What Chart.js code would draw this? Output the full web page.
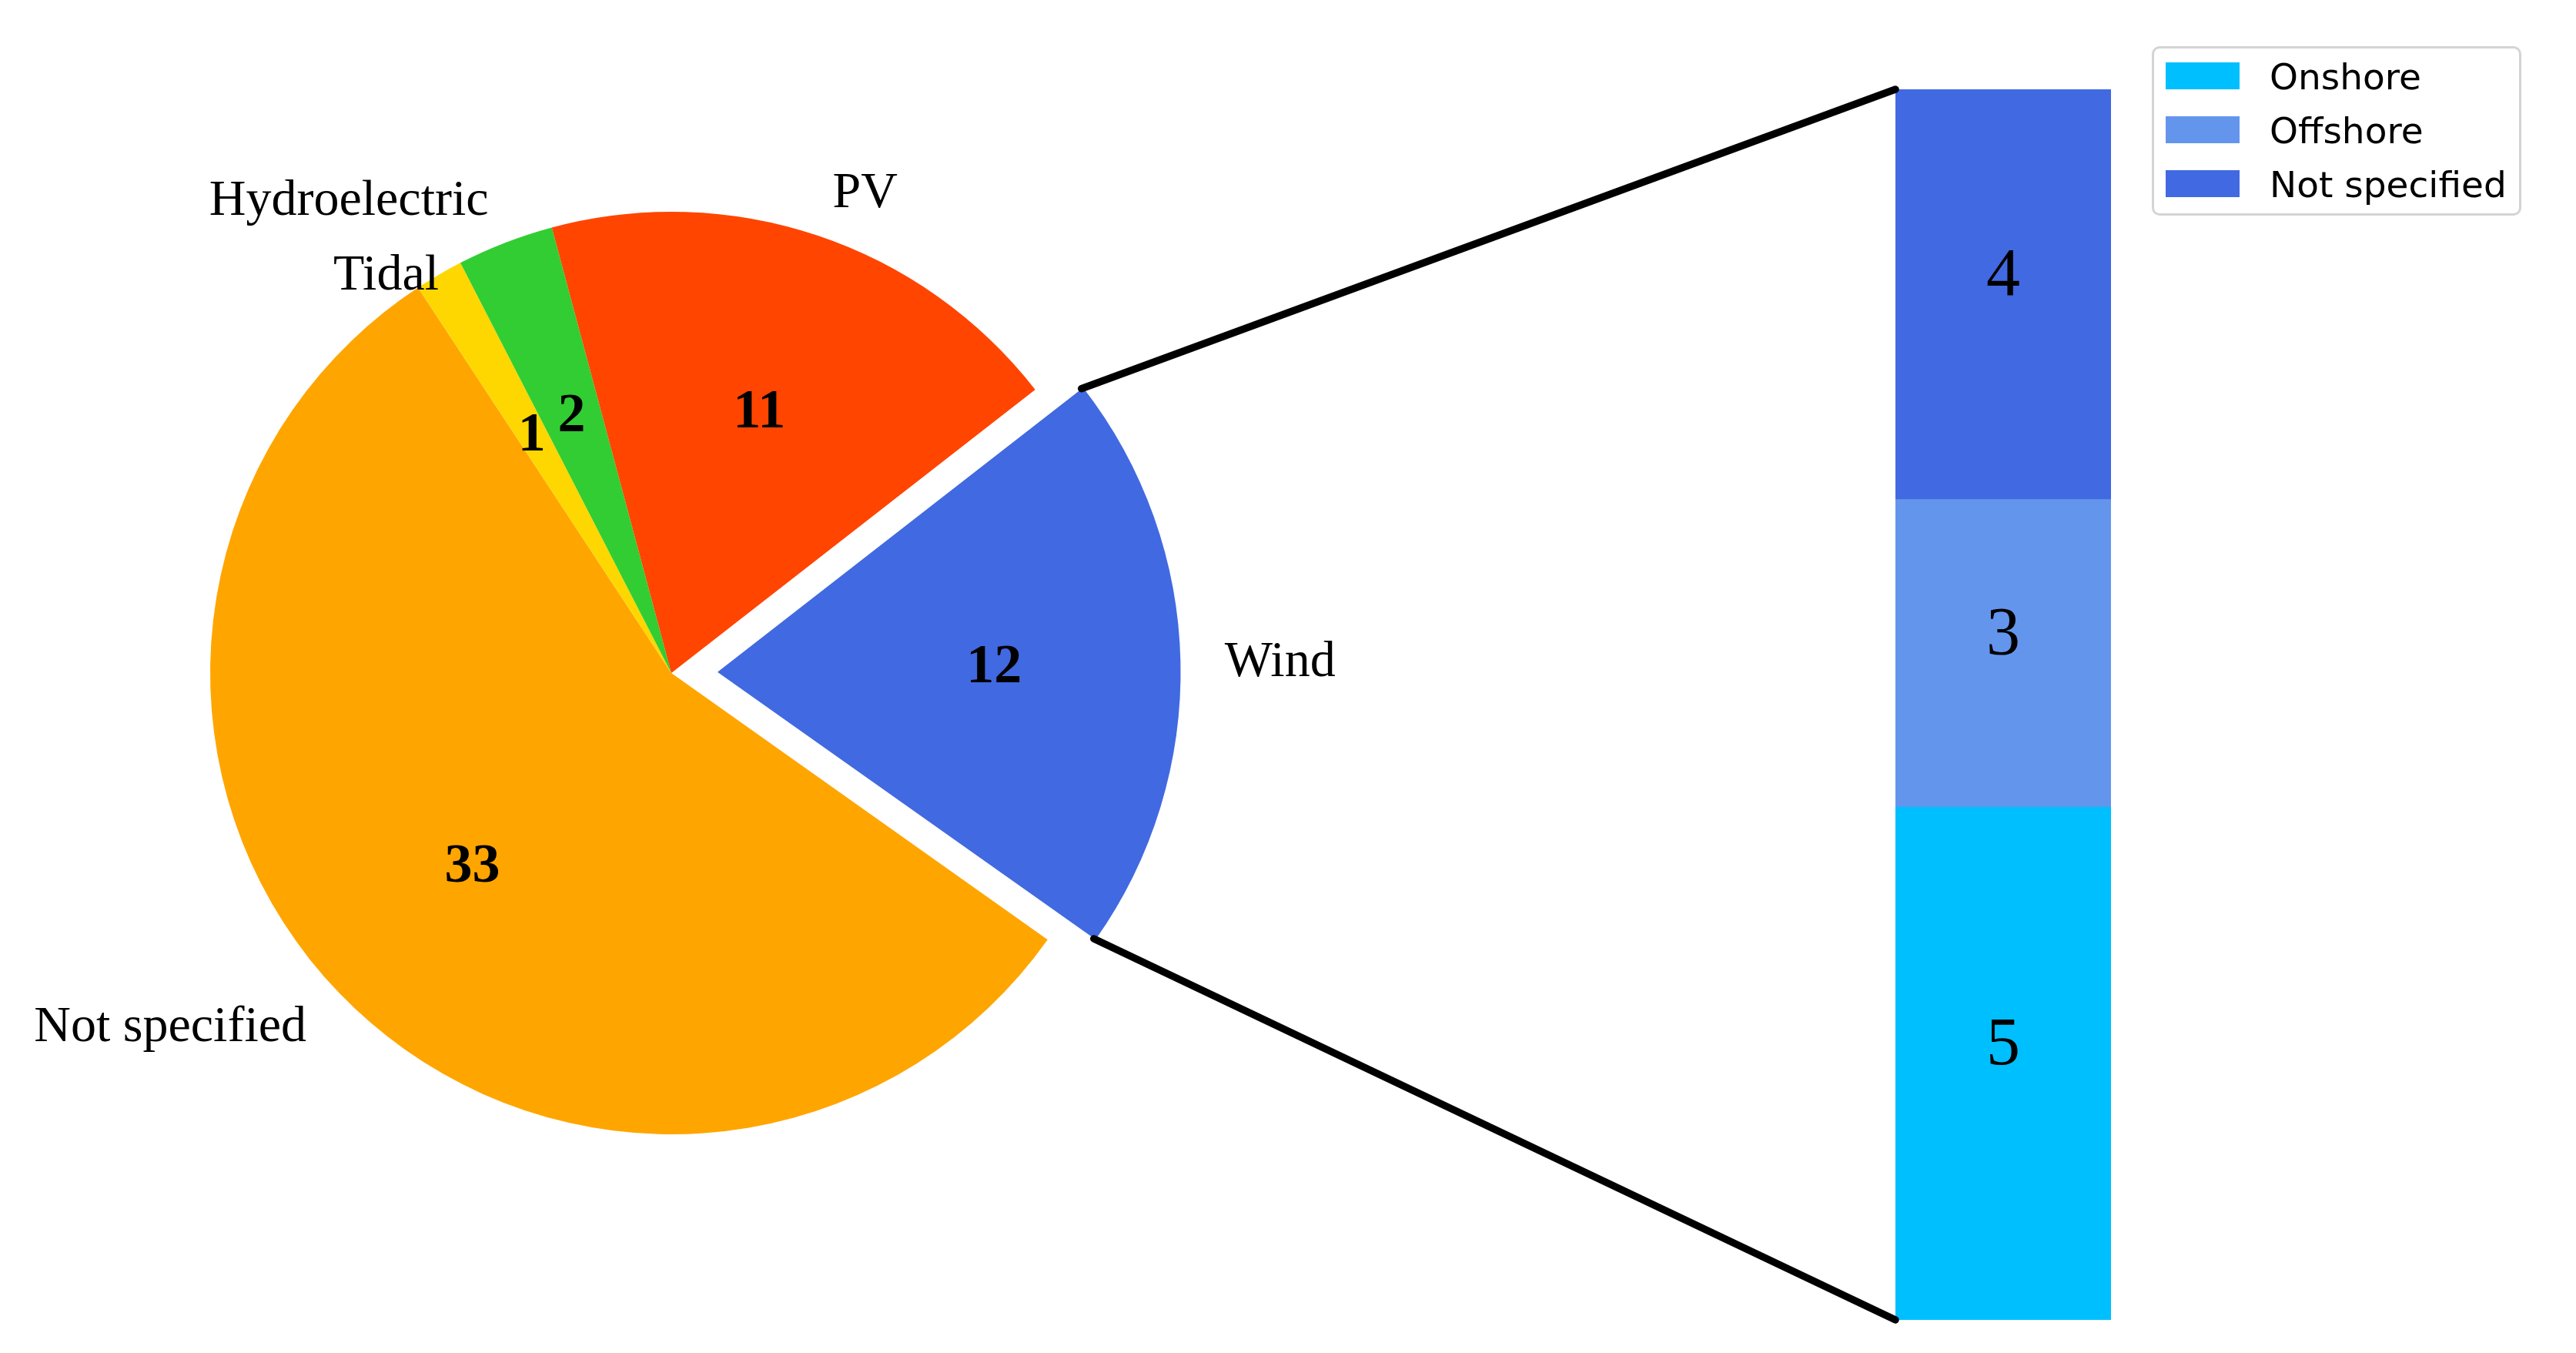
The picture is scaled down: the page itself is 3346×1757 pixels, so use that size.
<!DOCTYPE html>
<html><head><meta charset="utf-8">
<script src="https://cdn.jsdelivr.net/npm/chart.js@4/dist/chart.umd.min.js"></script>
<style>
html,body{margin:0;padding:0;background:#fff;width:3346px;height:1757px;overflow:hidden;}
#wrap{position:relative;width:3346px;height:1757px;}
canvas{position:absolute;left:0;top:0;width:3346px;height:1757px;}
#legend{position:absolute;left:2795px;top:60px;width:474px;height:214px;border:3px solid #d4d4d4;border-radius:10px;background:rgba(255,255,255,0.8);font-family:"DejaVu Sans";font-size:47px;color:#000;}
.item{position:absolute;left:15px;width:440px;height:35px;}
.sw{position:absolute;left:0;top:0;width:96px;height:35px;}
.lt{position:absolute;left:135px;top:50%;transform:translateY(-50%);white-space:nowrap;line-height:1;}
</style></head>
<body><div id="wrap"><canvas id="pie" width="3346" height="1757"></canvas><canvas id="bar" width="3346" height="1757"></canvas><div id="legend"></div></div>
<script>
// ---- data ----
const pieLabels = ['Wind', 'Not specified', 'Tidal', 'Hydroelectric', 'PV'];
const pieValues = [12, 33, 1, 2, 11];
const pieColors = ['#4169E1', '#FFA500', '#FFD700', '#32CD32', '#FF4500'];
const windLabels = ['Onshore', 'Offshore', 'Not specified'];
const windValues = [5, 3, 4];
const windColors = ['#00BFFF', '#6495ED', '#4169E1'];

// ---- style ----
const EXPLODE_PX = 60;
const LABEL_DIST = {'Tidal': 1.0};
const SERIF = '"Liberation Serif", "Times New Roman", serif';

function arcCenter(arc) {
  const mid = (arc.startAngle + arc.endAngle) / 2;
  const off = (arc.options.offset || 0) / 4;
  return {cx: arc.x + Math.cos(mid) * off, cy: arc.y + Math.sin(mid) * off, mid};
}

const pieLabelPlugin = {
  id: 'pieLabels',
  afterDatasetsDraw(chart) {
    const ctx = chart.ctx;
    ctx.save();
    ctx.fillStyle = '#000';
    ctx.textBaseline = 'alphabetic';
    chart.getDatasetMeta(0).data.forEach((arc, i) => {
      const {cx, cy, mid} = arcCenter(arc);
      const R = arc.outerRadius;
      const d = LABEL_DIST[pieLabels[i]] ?? 1.1;
      const lx = cx + Math.cos(mid) * R * d, ly = cy + Math.sin(mid) * R * d;
      ctx.font = '66px ' + SERIF;
      ctx.textAlign = Math.cos(mid) >= 0 ? 'left' : 'right';
      ctx.fillText(pieLabels[i], lx, ly + 0.3 * 66);
      const vx = cx + Math.cos(mid) * R * 0.6, vy = cy + Math.sin(mid) * R * 0.6;
      ctx.font = 'bold 72px ' + SERIF;
      ctx.textAlign = 'center';
      ctx.fillText(String(pieValues[i]), vx, vy + 0.3 * 72);
    });
    ctx.restore();
  }
};

const pieChart = new Chart(document.getElementById('pie'), {
  type: 'pie',
  data: {
    labels: pieLabels,
    datasets: [{
      data: pieValues,
      backgroundColor: pieColors,
      borderWidth: 0,
      offset: pieLabels.map((l, i) => i === 0 ? EXPLODE_PX * 4 : 0)
    }]
  },
  options: {
    responsive: false,
    animation: false,
    events: [],
    rotation: 52.1,
    radius: 599,
    layout: {padding: {left: 0, top: 0, right: 1602, bottom: 9}},
    plugins: {legend: {display: false}, tooltip: {enabled: false}}
  },
  plugins: [pieLabelPlugin]
});

const barPlugin = {
  id: 'barExtras',
  afterDatasetsDraw(chart) {
    const ctx = chart.ctx;
    ctx.save();
    ctx.font = '88px ' + SERIF;
    ctx.textAlign = 'center';
    ctx.textBaseline = 'alphabetic';
    ctx.fillStyle = '#000';
    chart.data.datasets.forEach((ds, i) => {
      const el = chart.getDatasetMeta(i).data[0];
      const m = (el.y + el.base) / 2;
      ctx.fillText(String(ds.data[0]), el.x, m + 1);
    });
    const n = chart.data.datasets.length;
    const topEl = chart.getDatasetMeta(n - 1).data[0];
    const botEl = chart.getDatasetMeta(0).data[0];
    const left = topEl.x - topEl.width / 2;
    const arc = pieChart.getDatasetMeta(0).data[0];
    const {cx, cy} = arcCenter(arc);
    const R = arc.outerRadius;
    ctx.strokeStyle = '#000';
    ctx.lineWidth = 9.5;
    ctx.lineCap = 'round';
    ctx.beginPath();
    ctx.moveTo(cx + Math.cos(arc.startAngle) * R, cy + Math.sin(arc.startAngle) * R);
    ctx.lineTo(left, topEl.y);
    ctx.moveTo(cx + Math.cos(arc.endAngle) * R, cy + Math.sin(arc.endAngle) * R);
    ctx.lineTo(left, botEl.base);
    ctx.stroke();
    ctx.restore();
  }
};

const barChart = new Chart(document.getElementById('bar'), {
  type: 'bar',
  data: {
    labels: ['Wind'],
    datasets: windLabels.map((l, i) => ({
      label: l, data: [windValues[i]], backgroundColor: windColors[i],
      borderWidth: 0, barPercentage: 1, categoryPercentage: 1
    }))
  },
  options: {
    responsive: false,
    animation: false,
    events: [],
    layout: {padding: {left: 2462, right: 604, top: 116, bottom: 43}},
    scales: {
      x: {display: false, stacked: true},
      y: {display: false, stacked: true, min: 0, max: windValues.reduce((a, b) => a + b, 0)}
    },
    plugins: {legend: {display: false}, tooltip: {enabled: false}}
  },
  plugins: [barPlugin]
});

// legend from bar datasets
const lg = document.getElementById('legend');
barChart.data.datasets.forEach((ds, i) => {
  const it = document.createElement('div');
  it.className = 'item';
  it.style.top = (18 + i * 70) + 'px';
  const sw = document.createElement('div');
  sw.className = 'sw';
  sw.style.background = ds.backgroundColor;
  const t = document.createElement('span');
  t.className = 'lt';
  t.textContent = ds.label;
  it.appendChild(sw); it.appendChild(t);
  lg.appendChild(it);
});
</script>
</body></html>
